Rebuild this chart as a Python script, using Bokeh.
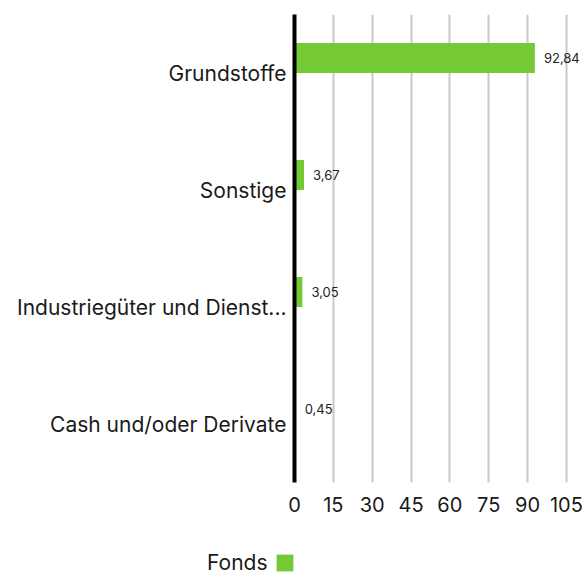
from bokeh.plotting import figure
from bokeh.layouts import column
from bokeh.models import (ColumnDataSource, FactorRange, Range1d, FixedTicker, Legend,
                          LegendItem)
from bokeh.transform import dodge
from bokeh.core.properties import value
from bokeh.embed import file_html
from bokeh.resources import INLINE

categories = ["Grundstoffe", "Sonstige", "Industriegüter und Dienst...", "Cash und/oder Derivate"]
fonds = [92.84, 3.67, 3.05, 0.45]
value_labels = ["92,84", "3,67", "3,05", "0,45"]
x_ticks = [0, 15, 30, 45, 60, 75, 90, 105]
series_name = "Fonds"

GREEN = "#74c935"
FONT = "Inter"

src = ColumnDataSource(dict(cat=categories, val=fonds, lab=value_labels))

p = figure(width=584, height=525, output_backend="svg", toolbar_location=None,
           y_range=FactorRange(*categories[::-1], range_padding=0),
           x_range=Range1d(0, 112))
p.min_border_left = 294
p.min_border_right = 0
p.min_border_top = 14
p.min_border_bottom = 43
p.outline_line_color = None
p.background_fill_color = "white"
p.border_fill_color = "white"
p.frame_align = False

bars = p.hbar(y=dodge("cat", 0.128, range=p.y_range), right="val", left=0, height=0.257,
              source=src, fill_color=GREEN, line_color=None)

p.text(x="val", y=dodge("cat", 0.128, range=p.y_range), text="lab", source=src,
       x_offset=9, text_align="left", text_baseline="middle",
       text_font=value(FONT), text_font_size="13px", text_color="#222222")

# grid
p.ygrid.grid_line_color = None
p.xgrid.grid_line_color = "#c8c8c8"
p.xgrid.grid_line_width = 2
p.xgrid.ticker = FixedTicker(ticks=x_ticks)

# x axis
p.xaxis.ticker = FixedTicker(ticks=x_ticks)
p.xaxis.axis_line_color = None
p.xaxis.major_tick_line_color = None
p.xaxis.minor_tick_line_color = None
p.xaxis.major_label_text_font = FONT
p.xaxis.major_label_text_font_size = "20px"
p.xaxis.major_label_text_color = "#1a1a1a"
p.xaxis.major_label_standoff = 8

# y axis
p.yaxis.axis_line_color = "black"
p.yaxis.axis_line_width = 4
p.yaxis.major_tick_line_color = None
p.yaxis.minor_tick_line_color = None
p.yaxis.major_label_text_font = FONT
p.yaxis.major_label_text_font_size = "21px"
p.yaxis.major_label_text_color = "#1a1a1a"
p.yaxis.major_label_standoff = 2

# legend strip: name first, swatch after it
lf = figure(width=584, height=50, output_backend="svg", toolbar_location=None,
            x_range=Range1d(0, 1), y_range=Range1d(0, 1),
            min_border_left=0, min_border_right=0, min_border_top=0, min_border_bottom=0)
lf.frame_align = False
lf.axis.visible = False
lf.grid.visible = False
lf.outline_line_color = None
blank = lf.hbar(y=[], right=[], left=0, height=0.2, fill_alpha=0, line_alpha=0)
# same series, kept outside this strip's view; only its legend swatch shows
swatch = lf.hbar(y=-5, left=0, right="val", height=0.2, source=src,
                 fill_color=GREEN, line_color=None)
legend = Legend(items=[LegendItem(label=series_name, renderers=[blank]),
                       LegendItem(label=" ", renderers=[swatch])],
                orientation="horizontal", location=(181, 0),
                padding=0, margin=0, spacing=6, label_standoff=5,
                glyph_width=21, glyph_height=21, border_line_color=None,
                background_fill_alpha=0, label_text_font=FONT,
                label_text_font_size="21px", label_text_color="#1a1a1a",
                label_height=21)
lf.add_layout(legend, "center")

layout = column(p, lf, spacing=0)
open("out.html", "w").write(file_html(layout, INLINE))
